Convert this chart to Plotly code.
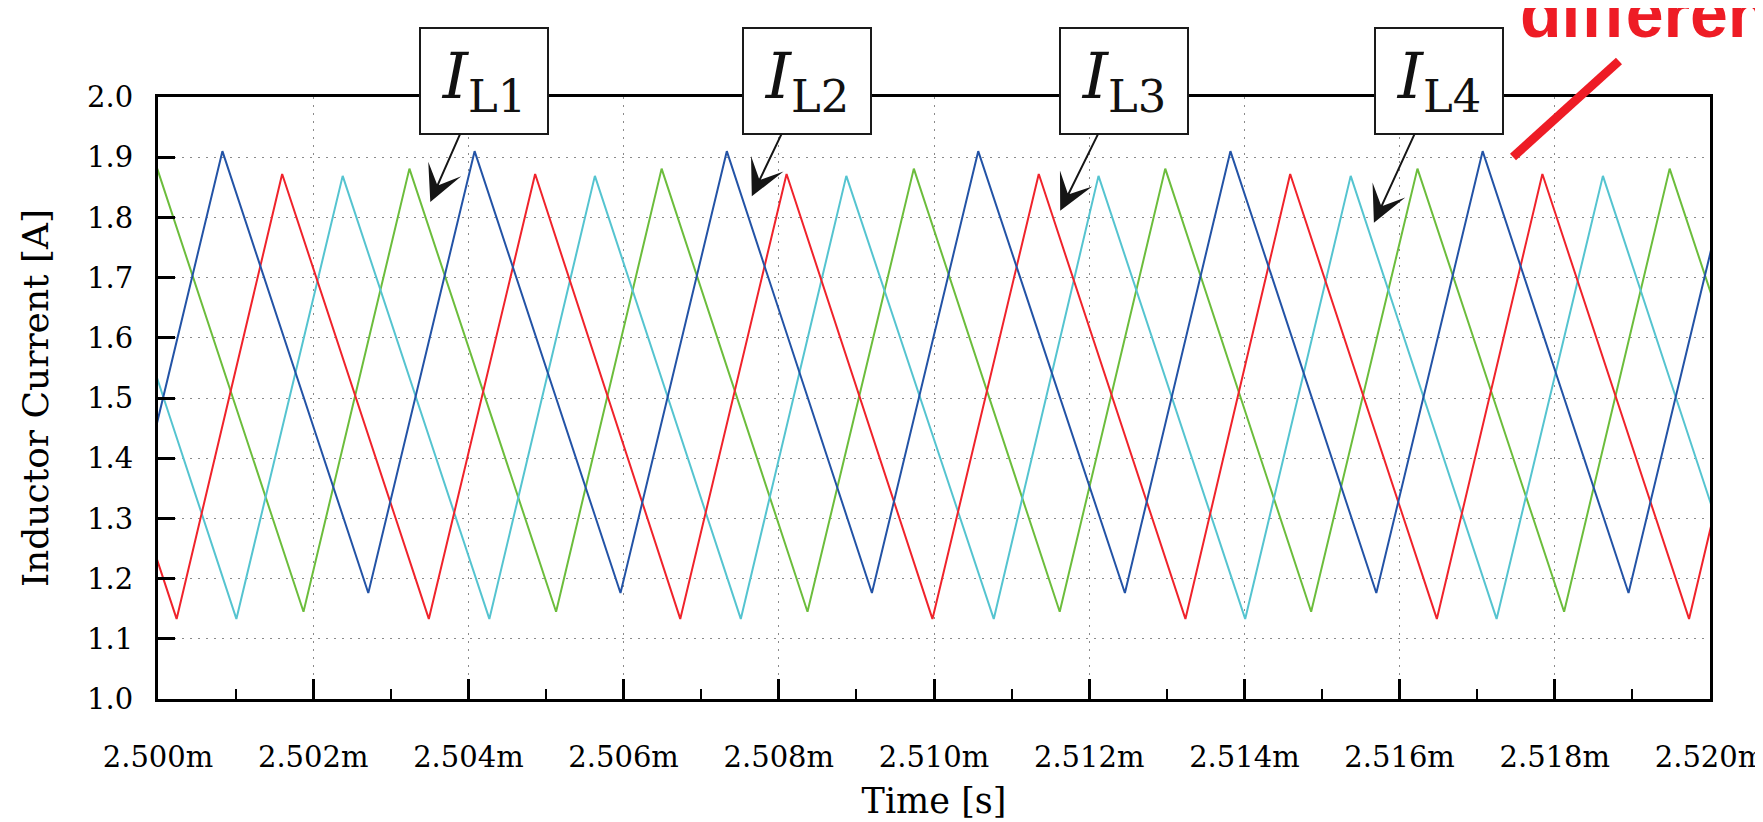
import plotly.graph_objects as go

# ---------------- data (times in microseconds after 2.500 ms, currents in A) ----------------
t0_ms = 2.500

blue_t_us = [-0.54, 0.83, 2.71, 4.08, 5.96, 7.33, 9.20, 10.57, 12.46, 13.82, 15.70, 17.07, 18.95, 20.32]
blue_i = [1.176, 1.910, 1.176, 1.910, 1.176, 1.910, 1.176, 1.910, 1.176, 1.910, 1.176, 1.910, 1.176, 1.910]

red_t_us = [-1.65, 0.24, 1.60, 3.49, 4.86, 6.73, 8.10, 9.98, 11.35, 13.24, 14.59, 16.48, 17.84, 19.73, 21.09]
red_i = [1.872, 1.133, 1.872, 1.133, 1.872, 1.133, 1.872, 1.133, 1.872, 1.133, 1.872, 1.133, 1.872, 1.133, 1.872]

cyan_t_us = [-0.87, 1.01, 2.38, 4.27, 5.63, 7.51, 8.87, 10.77, 12.12, 14.01, 15.37, 17.25, 18.62, 20.50]
cyan_i = [1.869, 1.133, 1.869, 1.133, 1.869, 1.133, 1.869, 1.133, 1.869, 1.133, 1.869, 1.133, 1.869, 1.133]

green_t_us = [-0.01, 1.875, 3.24, 5.13, 6.49, 8.37, 9.74, 11.62, 12.98, 14.86, 16.23, 18.12, 19.48, 21.37]
green_i = [1.881, 1.145, 1.881, 1.145, 1.881, 1.145, 1.881, 1.145, 1.881, 1.145, 1.881, 1.145, 1.881, 1.145]

x_tick_vals = [2.500, 2.502, 2.504, 2.506, 2.508, 2.510, 2.512, 2.514, 2.516, 2.518, 2.520]
x_tick_text = ["2.500m", "2.502m", "2.504m", "2.506m", "2.508m", "2.510m",
               "2.512m", "2.514m", "2.516m", "2.518m", "2.520m"]
y_tick_vals = [1.0, 1.1, 1.2, 1.3, 1.4, 1.5, 1.6, 1.7, 1.8, 1.9, 2.0]

labels = ["L1", "L2", "L3", "L4"]
label_tip_t_ms = [2.503509, 2.507652, 2.511626, 2.515669]
label_tip_i = [1.8256, 1.835, 1.811, 1.791]

# ---------------- figure ----------------
def to_ms(us_list):
    return [t0_ms + u / 1000.0 for u in us_list]

W, H = 1763, 822
ML, MR, MT, MB = 150, 61, 89, 131
PW, PH = W - ML - MR, H - MT - MB

def px(xp):
    return (xp - ML) / PW

def py(yp):
    return (H - MB - yp) / PH

fig = go.Figure()
series = [
    (green_t_us, green_i, "#6cbd3c"),
    (cyan_t_us, cyan_i, "#55c4d0"),
    (red_t_us, red_i, "#f0232b"),
    (blue_t_us, blue_i, "#2353a6"),
]
for ts, vs, col in series:
    fig.add_trace(go.Scatter(x=to_ms(ts), y=vs, mode="lines",
                             line=dict(color=col, width=2), showlegend=False,
                             hoverinfo="skip"))

serif = "DejaVu Serif"
grid_dash = "2px,6px"

fig.update_layout(
    template="none",
    width=W, height=H,
    margin=dict(l=ML, r=MR, t=MT, b=MB, pad=0),
    paper_bgcolor="white", plot_bgcolor="white",
    font=dict(family=serif, color="black", size=29),
    showlegend=False,
)

fig.update_xaxes(
    range=[2.500, 2.520], autorange=False,
    tickmode="array", tickvals=x_tick_vals, ticktext=x_tick_text,
    ticks="inside", ticklen=20, tickwidth=2.5, tickcolor="black",
    ticklabelstandoff=30,
    tickfont=dict(family=serif, size=29, color="black"),
    showline=True, linecolor="black", linewidth=3, mirror=True,
    showgrid=True, gridcolor="#8a8a8a", gridwidth=1, griddash=grid_dash,
    zeroline=False, automargin=False,
    minor=dict(ticks="inside", ticklen=10, tickwidth=2, tickcolor="black",
               dtick=0.001, tick0=2.5, showgrid=False),
    title=dict(text="Time [s]", font=dict(family=serif, size=35, color="black"), standoff=16),
)
fig.update_yaxes(
    range=[1.0, 2.0], autorange=False,
    tickmode="array", tickvals=y_tick_vals, tickformat=".1f",
    ticks="inside", ticklen=17, tickwidth=2.5, tickcolor="black",
    ticklabelstandoff=16,
    tickfont=dict(family=serif, size=29, color="black"),
    showline=True, linecolor="black", linewidth=3, mirror=True,
    showgrid=True, gridcolor="#8a8a8a", gridwidth=1, griddash=grid_dash,
    zeroline=False, automargin=False,
    title=dict(text="Inductor Current [A]", font=dict(family=serif, size=36, color="black"), standoff=28),
)

# label boxes with arrows (box centre offsets in pixels from arrow tip)
box_centres = [(475.5, 72.6), (799.0, 72.6), (1116.4, 72.6), (1431.0, 72.6)]
for lab, tt, ii, (cx, cy) in zip(labels, label_tip_t_ms, label_tip_i, box_centres):
    tip_x = ML + (tt - 2.500) / 0.020 * PW
    tip_y = MT + (2.0 - ii) / 1.0 * PH
    fig.add_annotation(
        x=tt, y=ii, xref="x", yref="y",
        ax=cx - tip_x, ay=cy - tip_y, axref="pixel", ayref="pixel",
        text="<i>I</i><sub>" + lab + "</sub>",
        font=dict(family=serif, size=64, color="#111111"),
        showarrow=True, arrowhead=3, arrowsize=3.0, arrowwidth=2, arrowcolor="#151515",
        bgcolor="white", bordercolor="#1a1a1a", borderwidth=2, borderpad=0,
        width=126, height=104, align="center", valign="middle",
    )

# red overlay mark and cut-off word at top right
fig.add_shape(type="line", xref="paper", yref="paper",
              x0=px(1505), y0=py(149), x1=px(1611), y1=py(53),
              line=dict(color="#ee1c25", width=9), layer="above")
fig.add_annotation(
    x=px(1510), y=py(45), xref="paper", yref="paper",
    xanchor="left", yanchor="bottom", showarrow=False,
    text="<b>different</b>",
    font=dict(family="Liberation Sans, Arial, sans-serif", size=68, color="#ee1c25"),
)

fig.write_html("out.html")
